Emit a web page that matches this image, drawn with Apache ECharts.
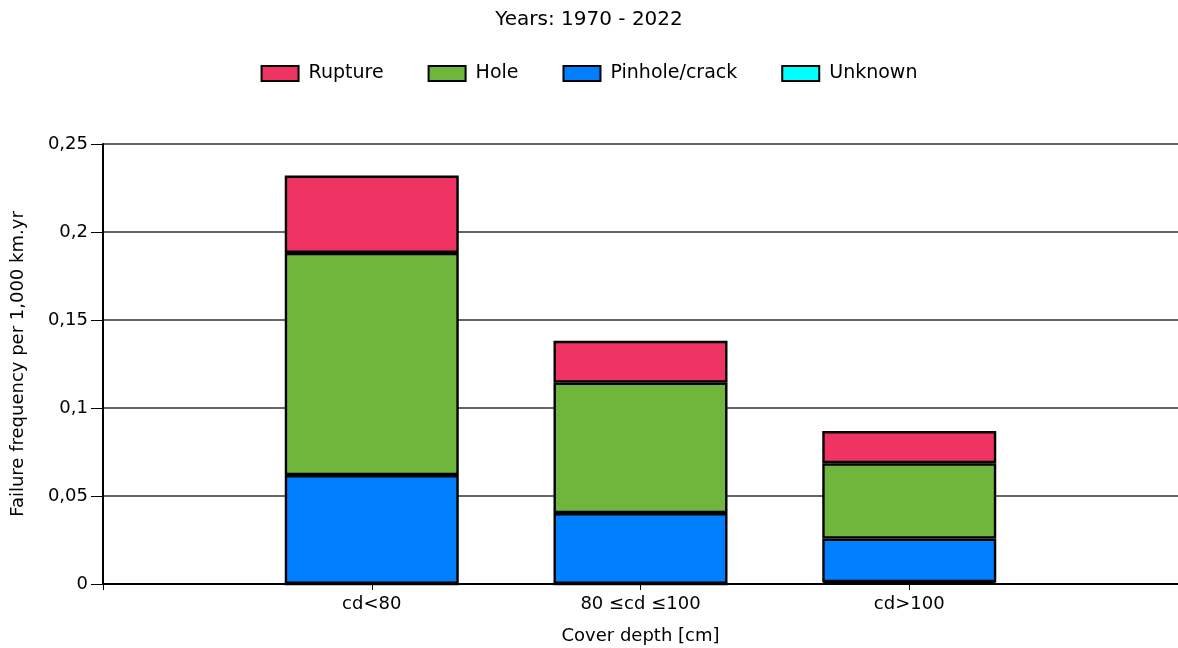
<!DOCTYPE html>
<html>
<head>
<meta charset="utf-8">
<script src="https://cdn.jsdelivr.net/npm/echarts@6/dist/echarts.min.js"></script>
<style>
  html, body { margin: 0; padding: 0; background: #fff; }
  #chart { width: 1178px; height: 648px; }
</style>
</head>
<body>
<div id="chart"></div>
<script>
// Cover depth classes; the empty slots at both ends give the axis its outer margins
const categories = ['', 'cd<80', '80 \u2264cd \u2264100', 'cd>100', ''];
// Failure frequency per 1,000 km.yr for each cover depth class
const rupture = [0.044, 0.0238, 0.0183];
const hole = [0.1262, 0.0741, 0.0428];
const pinhole = [0.0619, 0.0403, 0.0248];
const unknown = [0, 0, 0.001];
const yTicks = { min: 0, max: 0.25, interval: 0.05 };

const FONT = 'DejaVu Sans';
const pad = arr => ['-'].concat(arr, ['-']);

// Stacked from the bottom up: Unknown, Pinhole/crack, Hole, Rupture
const seriesDefs = [
  { name: 'Unknown', data: unknown, color: '#00FFFF' },
  { name: 'Pinhole/crack', data: pinhole, color: '#007FFF' },
  { name: 'Hole', data: hole, color: '#70B63D' },
  { name: 'Rupture', data: rupture, color: '#EF3362' }
];

const chart = echarts.init(document.getElementById('chart'), null, { renderer: 'canvas' });
chart.setOption({
  animation: false,
  backgroundColor: '#fff',
  textStyle: { fontFamily: FONT, color: '#000' },
  title: {
    text: 'Years: 1970 - 2022',
    left: 'center',
    top: 5,
    textStyle: { fontFamily: FONT, fontSize: 20, fontWeight: 'normal', color: '#000' }
  },
  legend: {
    data: ['Rupture', 'Hole', 'Pinhole/crack', 'Unknown'],
    top: 59,
    left: 'center',
    icon: 'rect',
    itemWidth: 37,
    itemHeight: 15,
    itemGap: 44,
    textStyle: { fontFamily: FONT, fontSize: 19, color: '#000', padding: [0, 0, 0, 5] }
  },
  grid: { left: 103, right: 0, top: 144, bottom: 64, containLabel: false, outerBoundsMode: 'none' },
  xAxis: {
    type: 'category',
    data: categories,
    boundaryGap: false,
    name: 'Cover depth [cm]',
    nameLocation: 'middle',
    nameGap: 43,
    nameTextStyle: { fontFamily: FONT, fontSize: 18, color: '#000' },
    axisLine: { lineStyle: { color: '#000', width: 2 } },
    axisTick: { show: true, length: 6, lineStyle: { color: '#000', width: 1 } },
    axisLabel: { fontFamily: FONT, fontSize: 18, color: '#000', margin: 11, interval: 0 },
    splitLine: { show: false }
  },
  yAxis: {
    type: 'value',
    min: yTicks.min,
    max: yTicks.max,
    interval: yTicks.interval,
    name: 'Failure frequency per 1,000 km.yr',
    nameLocation: 'middle',
    nameGap: 76,
    nameTextStyle: { fontFamily: FONT, fontSize: 18, color: '#000' },
    axisLine: { show: true, lineStyle: { color: '#000', width: 2 } },
    axisTick: { show: true, length: 12, lineStyle: { color: '#000', width: 1 } },
    axisLabel: {
      fontFamily: FONT, fontSize: 18, color: '#000', margin: 15,
      formatter: v => String(+v.toFixed(4)).replace('.', ',')
    },
    splitLine: { show: true, lineStyle: { color: '#333', width: 1.5 } }
  },
  series: seriesDefs.map(s => ({
    name: s.name,
    type: 'bar',
    stack: 'total',
    barWidth: 174,
    data: pad(s.data),
    itemStyle: { color: s.color, borderColor: '#000', borderWidth: 2.4 },
    emphasis: { disabled: true }
  }))
});
</script>
</body>
</html>
